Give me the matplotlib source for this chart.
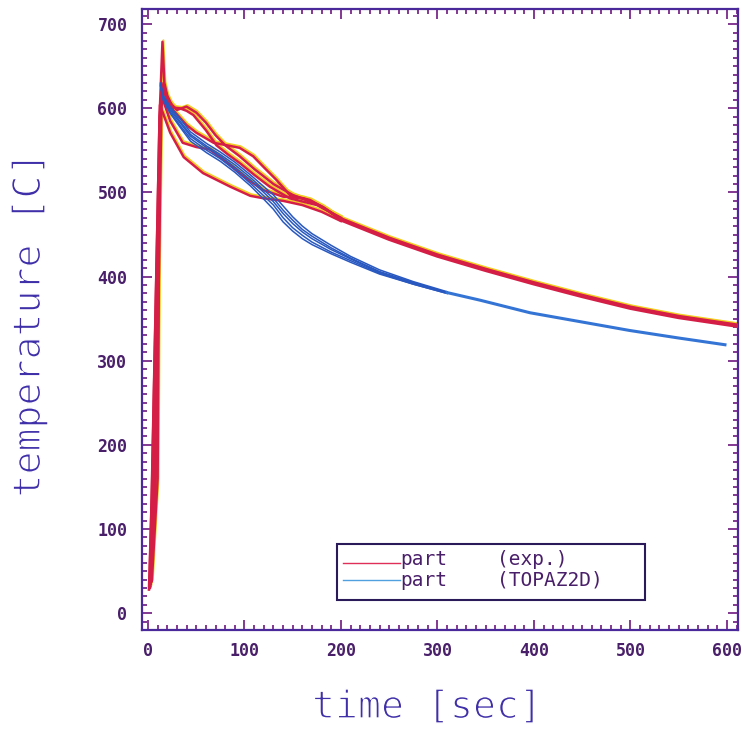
import matplotlib
matplotlib.use("Agg")
import matplotlib.pyplot as plt
import matplotlib.transforms as mtransforms
import matplotlib.patheffects as pe
from matplotlib.patches import Rectangle
from matplotlib.lines import Line2D
from matplotlib.ticker import MultipleLocator

r1_t = [2, 5, 13, 16, 20, 25, 33, 40, 47, 60, 71, 83, 95, 110, 126, 147, 175, 200]
r1_T = [30, 150, 600, 630, 612, 601, 600, 597, 592, 574, 556, 545, 535, 521, 507, 493, 485, 470]
r1b_t = [1, 4, 12, 15, 20, 30, 40, 50, 60, 70, 80, 95, 110, 130, 150, 175, 200]
r1b_T = [28, 140, 590, 625, 610, 598, 602, 595, 583, 568, 556, 543, 528, 510, 497, 486, 469]
r2_t = [3, 8, 14, 17, 26, 40, 50, 68, 82, 95, 109, 120, 133, 147, 168, 185, 200]
r2_T = [35, 160, 605, 620, 598, 580, 571, 559, 556, 553, 543, 530, 515, 497, 491, 480, 468]
r3_t = [2.5, 6, 13, 15, 23, 36, 50, 64, 78, 99, 119, 140, 161, 181, 200]
r3_T = [32, 155, 595, 612, 585, 559, 554, 551, 539, 519, 503, 495, 493, 483, 467]
r4_t = [4, 10, 12.4, 23, 37, 57, 85, 106, 120, 140, 160, 180, 200]
r4_T = [38, 160, 604, 571, 542, 523, 507, 496, 493, 490, 485, 477, 466]
r5_t = [1.5, 4, 12, 15, 17, 20, 25]
r5_T = [30, 150, 590, 679, 630, 615, 603]
red_tail_t = [200, 250, 300, 350, 400, 450, 500, 550, 615]
red_tail_T = [468, 445, 425, 408, 392, 377, 363, 352, 341]

# --- TOPAZ2D bundle (blue)
blue_t = [13, 16, 23, 33, 44, 61, 75, 90, 106, 120, 130, 140, 150, 160, 170, 190, 210, 240, 275, 310]
b1_T = [630, 615, 602, 588, 572, 558, 548, 536, 521, 507, 497, 484, 471, 460, 451, 437, 424, 408, 394, 382]
b2_T = [629, 613, 600, 585, 569, 555, 545, 533, 518, 503, 493, 479, 467, 456, 448, 434, 422, 406, 393, 381]
b3_T = [628, 612, 598, 583, 567, 553, 543, 530, 515, 500, 489, 475, 463, 453, 445, 432, 421, 405, 392, 381]
b4_T = [627, 610, 596, 580, 564, 550, 540, 527, 511, 496, 485, 470, 458, 449, 441, 429, 419, 404, 391, 380]
b5_T = [626, 609, 594, 578, 561, 547, 537, 524, 508, 492, 480, 465, 454, 445, 438, 427, 417, 403, 391, 380]
blue_tail_t = [310, 344, 396, 450, 499, 550, 598]
blue_tail_T = [381, 372, 357, 346, 336, 327, 319]

x_ticks = [0, 100, 200, 300, 400, 500, 600]
y_ticks = [0, 100, 200, 300, 400, 500, 600, 700]

RED = '#d41e46'
YEL = '#f2d020'
BLUE = '#2858c0'
FRAME = '#4a2a9a'
LBL = '#4a1f6a'

fig = plt.figure(figsize=(7.42, 7.29), dpi=100)
ax = fig.add_axes([142/742, 99/729, 596/742, 621/729])

# yellow fringe a bit up/right of the red pen
halo = mtransforms.offset_copy(ax.transData, fig=fig, x=1.0, y=1.6, units='dots')

reds = [(r1_t, r1_T), (r1b_t, r1b_T), (r2_t, r2_T), (r3_t, r3_T), (r4_t, r4_T), (r5_t, r5_T)]
for t, T in reds:
    ax.plot(t, T, color=YEL, lw=1.4, transform=halo, zorder=2)
for t, T in reds:
    ax.plot(t, T, color=RED, lw=1.8, zorder=3)
ax.plot(red_tail_t, red_tail_T, color=YEL, lw=2.5, transform=halo, zorder=2)
ax.plot(red_tail_t, red_tail_T, color=RED, lw=3.2, zorder=3)

for T in [b1_T, b2_T, b3_T, b4_T, b5_T]:
    ax.plot(blue_t, T, color=BLUE, lw=1.1, zorder=4)
ax.plot(blue_tail_t, blue_tail_T, color='#3474d4', lw=2.2, zorder=4)

ax.set_xlim(-6.2, 611.5)
ax.set_ylim(-20, 718)
ax.set_xticks(x_ticks)
ax.set_yticks(y_ticks)
ax.xaxis.set_minor_locator(MultipleLocator(10))
ax.yaxis.set_minor_locator(MultipleLocator(10))

for s in ax.spines.values():
    s.set_color(FRAME)
    s.set_linewidth(1.6)

ax.tick_params(which='both', direction='in', top=True, right=True, color='#7a2a8a', width=1.3)
ax.tick_params(which='major', length=7)
ax.tick_params(which='minor', length=3.5)
ax.tick_params(axis='x', which='major', pad=8.5)
ax.tick_params(axis='y', which='major', pad=10.5)
for lab in ax.get_xticklabels() + ax.get_yticklabels():
    lab.set_family('DejaVu Sans Mono')
    lab.set_weight('bold')
    lab.set_size(12)
    lab.set_color(LBL)

# thin pen strokes: erode glyphs with a white outline
thin = [pe.Stroke(linewidth=1.0, foreground='white')]
fig.text(30/742, 1 - 325/729, 'temperature [C]', rotation=90, ha='center', va='center',
         family='DejaVu Sans Mono', size=27.5, color='#3f2fa8', path_effects=thin)
fig.text(427/742, 1 - 708/729, 'time [sec]', ha='center', va='center',
         family='DejaVu Sans Mono', size=27.5, color='#3f2fa8', path_effects=thin)

# legend box drawn like the plotter did
ax.add_patch(Rectangle((0.327, 0.0483), 0.517, 0.090, transform=ax.transAxes,
                       facecolor='white', edgecolor='#2a1a5a', lw=1.5, zorder=6))
ax.add_line(Line2D([0.337, 0.433], [0.108, 0.108], transform=ax.transAxes,
                   color='#e0305a', lw=1.0, zorder=7))
ax.add_line(Line2D([0.337, 0.433], [0.0805, 0.0805], transform=ax.transAxes,
                   color='#50a0e0', lw=1.0, zorder=7))
for y, txt in [(0.114, '(exp.)'), (0.080, '(TOPAZ2D)')]:
    ax.text(0.433, y, 'part', transform=ax.transAxes, ha='left', va='center',
            family='DejaVu Sans Mono', size=14, color=LBL, zorder=7)
    ax.text(0.596, y, txt, transform=ax.transAxes, ha='left', va='center',
            family='DejaVu Sans Mono', size=14, color=LBL, zorder=7)

fig.savefig('out.png', dpi=100, facecolor='white')
